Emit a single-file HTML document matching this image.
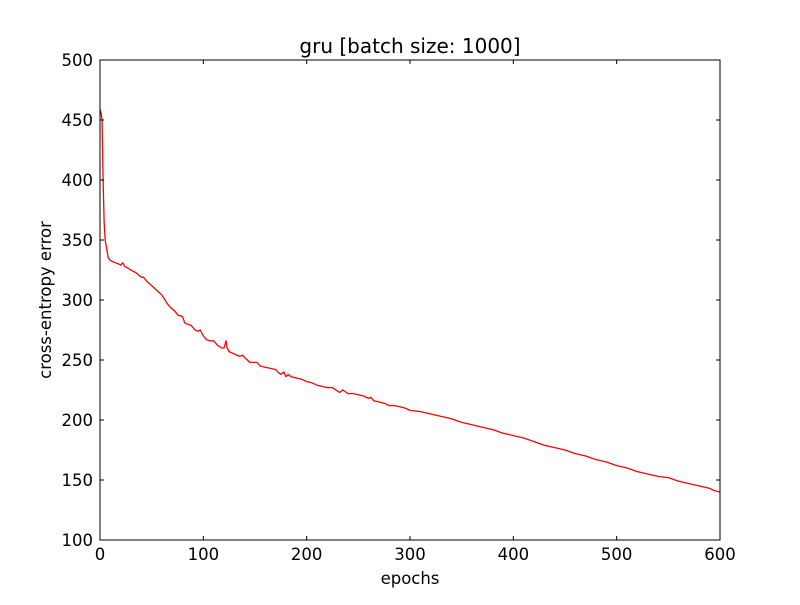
<!DOCTYPE html>
<html><head><meta charset="utf-8"><style>
body{margin:0;background:#fff;}
svg text{font-family:"DejaVu Sans","Liberation Sans",sans-serif;}
</style></head><body>
<svg id="chart" width="800" height="600" viewBox="0 0 800 600" xmlns="http://www.w3.org/2000/svg">
<rect width="800" height="600" fill="#fff"/>
<g id="plot"></g>
</svg>
<script>
const xTicks=[0,100,200,300,400,500,600];
const yTicks=[100,150,200,250,300,350,400,450,500];
const epochs=[0,1,2,3,4,5,6,7,8,10,12,15,18,20,22,24,28,32,36,40,42,46,50,55,60,63,65,68,72,76,78,80,82,84,88,92,95,97,100,103,106,110,114,118,120,122,123,125,130,135,138,140,145,150,152,155,160,165,170,172,175,178,180,182,185,190,195,200,205,210,215,220,225,230,232,235,240,245,250,255,260,262,265,270,275,280,285,290,295,300,310,320,330,340,350,360,370,380,390,400,410,420,430,440,450,460,470,480,490,500,510,520,530,540,550,560,570,580,590,595,600];
const errors=[459,456,450,400,365,350,345,340,335,333,332,331,330,329,331,328,326,324,322,319,319,315,312,308,304,300,297,294,291,287,287,286,281,280,279,275,274,275,270,267,266,266,262,260,260,266,260,257,255,253,254,252,248,248,248,245,244,243,242,240,238,240,236,238,236,235,234,232,231,229,228,227,227,224,223,225,222,222,221,220,218,219,216,215,214,212,212,211,210,208,207,205,203,201,198,196,194,192,189,187,185,182,179,177,175,172,170,167,165,162,160,157,155,153,152,149,147,145,143,141,140];
const L=100,R=720,T=60,B=540;
const xs=v=>L+(v-0)/(600-0)*(R-L);
const ys=v=>B-(v-100)/(500-100)*(B-T);
const NS="http://www.w3.org/2000/svg";
const g=document.getElementById('plot');
function mk(tag,attrs){const e=document.createElementNS(NS,tag);for(const k in attrs)e.setAttribute(k,attrs[k]);g.appendChild(e);return e;}
const pts=epochs.map((e,i)=>xs(e).toFixed(2)+','+ys(errors[i]).toFixed(2)).join(' ');
const line=mk('polyline',{points:pts,fill:'none',stroke:'#ff0000','stroke-width':1.3,'stroke-linejoin':'round'});


const fr=mk('rect',{x:L,y:T,width:R-L,height:B-T,fill:'none',stroke:'#000','stroke-width':1});


xTicks.forEach(t=>{
  const x=xs(t);
  mk('line',{x1:x,y1:B,x2:x,y2:B-4,stroke:'#000'});
  mk('line',{x1:x,y1:T,x2:x,y2:T+4,stroke:'#000'});
  const tx=mk('text',{x:x,y:B+20,'font-size':16.5,'text-anchor':'middle'});
  tx.textContent=t;
  
  
});
yTicks.forEach(t=>{
  const y=ys(t);
  mk('line',{x1:L,y1:y,x2:L+4,y2:y,stroke:'#000'});
  mk('line',{x1:R,y1:y,x2:R-4,y2:y,stroke:'#000'});
  const tx=mk('text',{x:L-7,y:y+6,'font-size':16.5,'text-anchor':'end'});
  tx.textContent=t;
  
  
});
const title=mk('text',{x:410,y:53,'font-size':20,'text-anchor':'middle'});
title.textContent='gru [batch size: 1000]';


const xl=mk('text',{x:410,y:584,'font-size':16.5,'text-anchor':'middle'});
xl.textContent='epochs';


const yl=mk('text',{x:51,y:300,'font-size':16.5,'text-anchor':'middle',transform:'rotate(-90 51 300)'});
yl.textContent='cross-entropy error';


</script>
</body></html>
